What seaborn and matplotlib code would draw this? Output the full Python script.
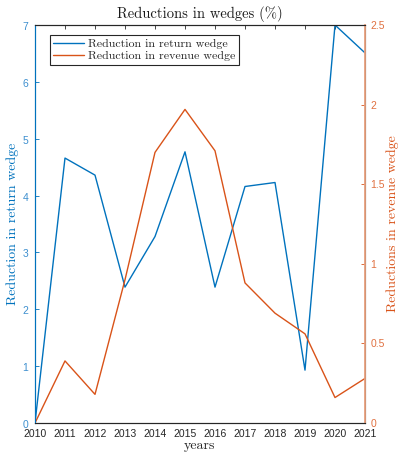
import matplotlib
matplotlib.use("Agg")
import matplotlib.pyplot as plt
import seaborn as sns
import pandas as pd

years = [2010, 2011, 2012, 2013, 2014, 2015, 2016, 2017, 2018, 2019, 2020, 2021]
return_wedge = [0.0, 4.66, 4.36, 2.39, 3.28, 4.77, 2.39, 4.16, 4.23, 0.93, 7.0, 6.51]
revenue_wedge = [0.0, 0.39, 0.18, 0.90, 1.70, 1.97, 1.71, 0.88, 0.69, 0.56, 0.16, 0.28]

blue = "#0072BD"
orange = "#D95319"

sns.set_theme(style="white")
plt.rcParams["font.family"] = ["Liberation Sans", "DejaVu Sans"]
plt.rcParams["axes.formatter.use_mathtext"] = True

df = pd.DataFrame({"year": years, "ret": return_wedge, "rev": revenue_wedge})

fig = plt.figure(figsize=(4.0, 4.55), dpi=100)
ax = fig.add_axes([0.0875, 0.0703, 0.825, 0.8747])
ax2 = ax.twinx()

sns.lineplot(data=df, x="year", y="ret", ax=ax, color=blue, lw=1.0,
             label="Reduction in return wedge", legend=False)
sns.lineplot(data=df, x="year", y="rev", ax=ax2, color=orange, lw=1.0,
             label="Reduction in revenue wedge", legend=False)

serif = "cmr10"

ax.set_xlim(2010, 2021)
ax.set_ylim(0, 7)
ax2.set_ylim(0, 2.5)
ax.set_xticks(years)
ax.set_xticklabels([str(y) for y in years])
ax.set_yticks(range(0, 8))
ax2.set_yticks([0, 0.5, 1, 1.5, 2, 2.5])
ax2.set_yticklabels(["0", "0.5", "1", "1.5", "2", "2.5"])

ax.tick_params(axis="x", direction="in", length=3, width=0.6, colors="#262626",
               labelsize=7.5, top=True, pad=4)
ax.tick_params(axis="y", direction="in", length=3, width=0.6, colors=blue,
               labelsize=7.5, pad=4)
ax2.tick_params(axis="y", direction="in", length=3, width=0.6, colors=orange,
                labelsize=7.5, pad=4)
ax2.tick_params(axis="x", top=False, bottom=False)
for lbl in ax.get_yticklabels():
    lbl.set_color("#3d8fcf")
for lbl in ax2.get_yticklabels():
    lbl.set_color("#e07040")

for a in (ax, ax2):
    for s in a.spines.values():
        s.set_linewidth(0.8)
        s.set_color("#262626")
ax.spines["left"].set_color(blue)
ax2.spines["left"].set_color(blue)
ax2.spines["right"].set_color("#E8A07E")
ax2.spines["right"].set_linewidth(1.3)

ax.set_xlabel("years", family=serif, fontsize=10, color="#262626", labelpad=1)
ax.set_ylabel("Reduction in return wedge", family=serif, fontsize=10, color=blue, labelpad=2)
ax2.set_ylabel("Reductions in revenue wedge", family=serif, fontsize=10, color=orange,
               labelpad=1, rotation=90)
ax.set_title("Reductions in wedges (%)", family=serif, fontsize=10.5, color="#1a1a1a", pad=5)

h1, l1 = ax.get_legend_handles_labels()
h2, l2 = ax2.get_legend_handles_labels()
leg = ax2.legend(h1 + h2, l1 + l2, loc="upper left", bbox_to_anchor=(0.045, 0.975),
                 prop={"family": serif, "size": 8.6}, frameon=True, fancybox=False,
                 edgecolor="#262626", framealpha=1, borderpad=0.3, labelspacing=0.15,
                 handlelength=2.6, handletextpad=0.3, borderaxespad=0)
leg.get_frame().set_linewidth(0.8)

fig.savefig("out.png", dpi=100)
